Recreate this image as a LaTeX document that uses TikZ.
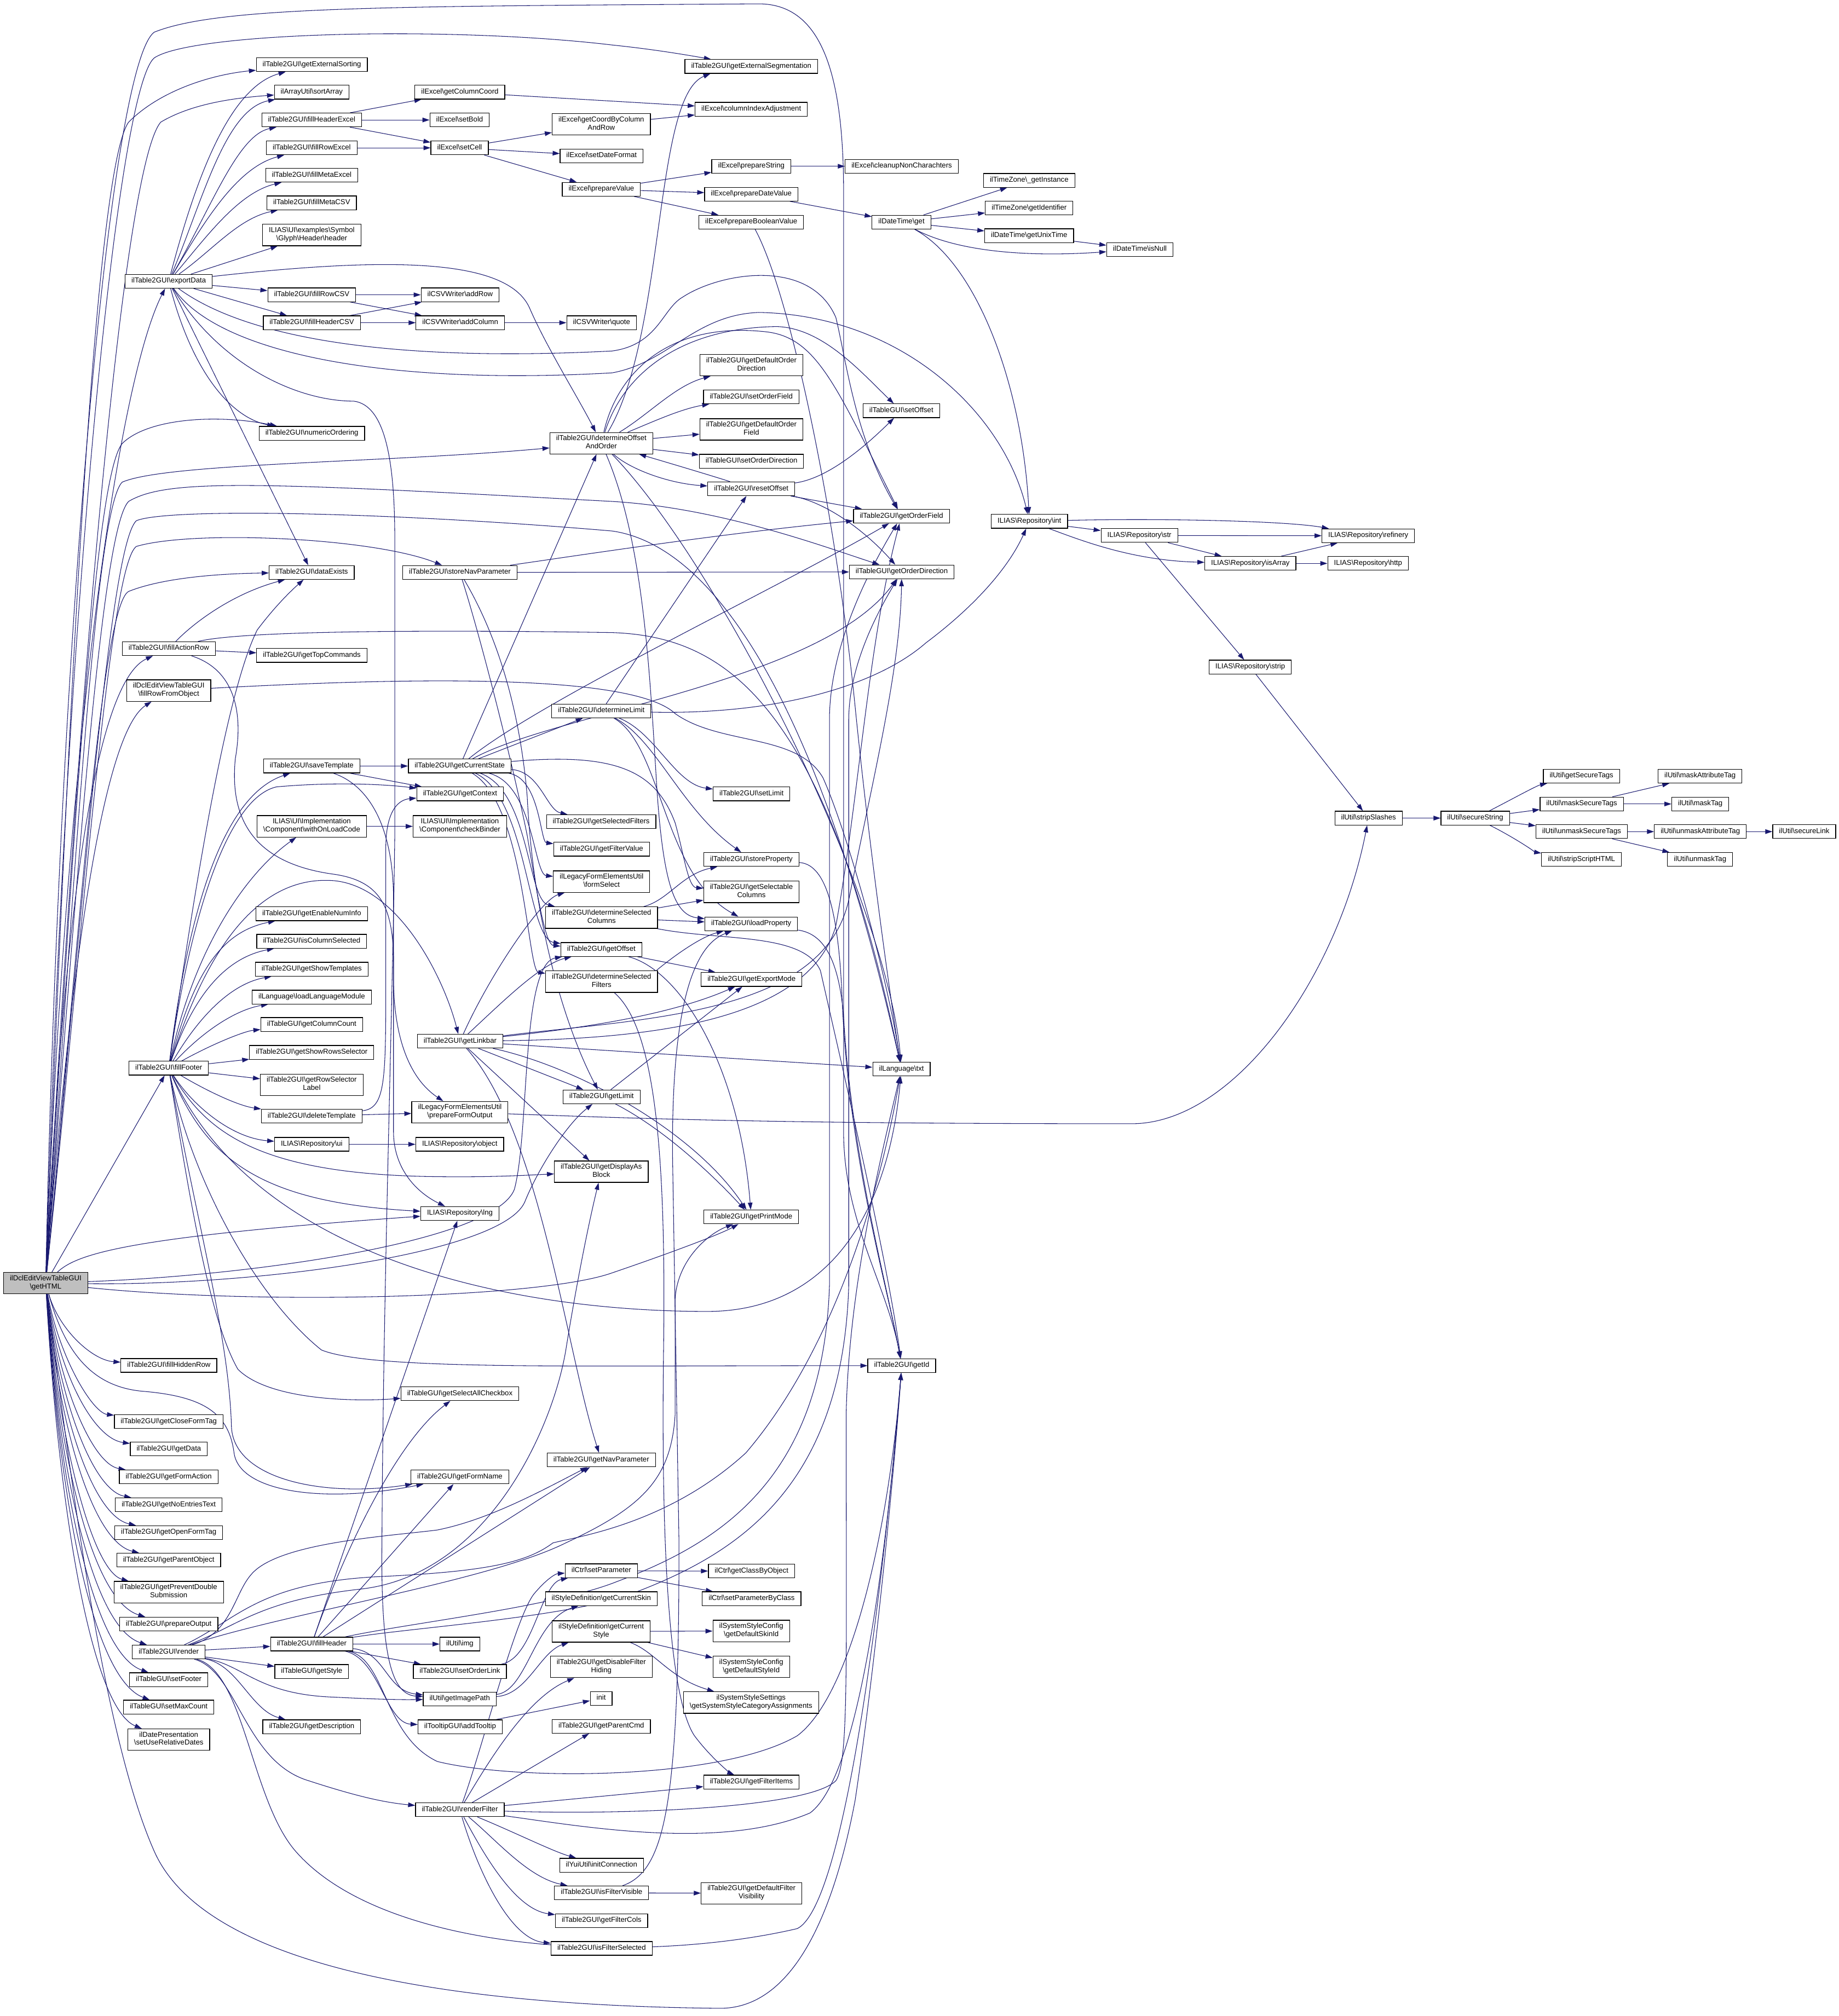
\documentclass[tikz,border=0pt]{standalone}
\usepackage{fontspec}
\setmainfont{Liberation Sans}
\usetikzlibrary{arrows.meta}
\pgfdeclarelayer{edges}
\pgfsetlayers{edges,main}
\definecolor{edgeblue}{RGB}{25,25,112}
\definecolor{rootgray}{RGB}{191,191,191}
\newcommand{\bksl}{\textbackslash}
\newcommand{\nodefnt}{\fontsize{5.6}{6.3}\selectfont}
\begin{document}
\begin{tikzpicture}[x=1pt,y=-1pt,
  nd/.style={draw=black, line width=0.5pt, fill=white, font=\nodefnt, inner xsep=4.9pt, inner ysep=2.2pt, align=center, execute at begin node=\strut, execute at end node=\strut},
  root/.style={nd, fill=rootgray},
  edg/.style={draw=edgeblue, line width=0.45pt, -{Triangle[length=5.5pt,width=3.6pt]}}]
\useasboundingbox (0,0) rectangle (1430,1568);
% ---------------- nodes ----------------
\node[root] (G) at (35.5,998) {ilDclEditViewTableGUI\\\bksl getHTML};
% column 1
\node[nd] (exp) at (131.2,218.8) {ilTable2GUI\bksl exportData};
\node[nd] (far) at (131.3,504.5) {ilTable2GUI\bksl fillActionRow};
\node[nd] (fro) at (131.2,537.1) {ilDclEditViewTableGUI\\\bksl fillRowFromObject};
\node[nd] (ffo) at (131.2,830.8) {ilTable2GUI\bksl fillFooter};
\node[nd] (fhr) at (131.3,1062) {ilTable2GUI\bksl fillHiddenRow};
\node[nd] (gcft) at (131.2,1105.7) {ilTable2GUI\bksl getCloseFormTag};
\node[nd] (gdata) at (131.3,1127) {ilTable2GUI\bksl getData};
\node[nd] (gfa) at (131.2,1148.7) {ilTable2GUI\bksl getFormAction};
\node[nd] (gnet) at (131.2,1170.4) {ilTable2GUI\bksl getNoEntriesText};
\node[nd] (goft) at (131.2,1192) {ilTable2GUI\bksl getOpenFormTag};
\node[nd] (gpo) at (131.2,1213.4) {ilTable2GUI\bksl getParentObject};
\node[nd] (gpds) at (131.2,1238.3) {ilTable2GUI\bksl getPreventDouble\\Submission};
\node[nd] (pout) at (131.2,1263.2) {ilTable2GUI\bksl prepareOutput};
\node[nd] (rend) at (131.2,1284.9) {ilTable2GUI\bksl render};
\node[nd] (sfoot) at (131.2,1306.4) {ilTableGUI\bksl setFooter};
\node[nd] (smc) at (131.2,1327.7) {ilTableGUI\bksl setMaxCount};
\node[nd] (surd) at (131.2,1353) {ilDatePresentation\\\bksl setUseRelativeDates};
% column 2
\node[nd] (ges) at (242.5,50.3) {ilTable2GUI\bksl getExternalSorting};
\node[nd] (sarr) at (242.4,71.7) {ilArrayUtil\bksl sortArray};
\node[nd] (fhe) at (242.4,93.3) {ilTable2GUI\bksl fillHeaderExcel};
\node[nd] (fre) at (242.4,115) {ilTable2GUI\bksl fillRowExcel};
\node[nd] (fme) at (242.4,136.3) {ilTable2GUI\bksl fillMetaExcel};
\node[nd] (fmc) at (242.4,157.8) {ilTable2GUI\bksl fillMetaCSV};
\node[nd] (hdr) at (242.4,182.8) {ILIAS\bksl UI\bksl examples\bksl Symbol\\\bksl Glyph\bksl Header\bksl header};
\node[nd] (frc) at (242.4,229.3) {ilTable2GUI\bksl fillRowCSV};
\node[nd] (fhc) at (242.5,251) {ilTable2GUI\bksl fillHeaderCSV};
\node[nd] (nord) at (242.5,337) {ilTable2GUI\bksl numericOrdering};
\node[nd] (dex) at (242.4,445.2) {ilTable2GUI\bksl dataExists};
\node[nd] (gtc) at (242.5,509.8) {ilTable2GUI\bksl getTopCommands};
\node[nd] (stpl) at (242.4,595.8) {ilTable2GUI\bksl saveTemplate};
\node[nd] (wolc) at (242.4,642.7) {ILIAS\bksl UI\bksl Implementation\\\bksl Component\bksl withOnLoadCode};
\node[nd] (geni) at (242.4,710.7) {ilTable2GUI\bksl getEnableNumInfo};
\node[nd] (ics) at (242.4,732.1) {ilTable2GUI\bksl isColumnSelected};
\node[nd] (gst) at (242.4,753.8) {ilTable2GUI\bksl getShowTemplates};
\node[nd] (llm) at (242.4,775.5) {ilLanguage\bksl loadLanguageModule};
\node[nd] (gcc) at (242.4,796.8) {ilTableGUI\bksl getColumnCount};
\node[nd] (gsrs) at (242.4,818.5) {ilTable2GUI\bksl getShowRowsSelector};
\node[nd] (grsl) at (242.4,843.7) {ilTable2GUI\bksl getRowSelector\\Label};
\node[nd] (dtpl) at (242.4,868.1) {ilTable2GUI\bksl deleteTemplate};
\node[nd] (rui) at (242.4,890) {ILIAS\bksl Repository\bksl ui};
\node[nd] (fhd) at (242.4,1278.7) {ilTable2GUI\bksl fillHeader};
\node[nd] (gsty) at (242.4,1300) {ilTableGUI\bksl getStyle};
\node[nd] (gdesc) at (242.4,1343) {ilTable2GUI\bksl getDescription};
% column 3
\node[nd] (gcco) at (357.6,71.7) {ilExcel\bksl getColumnCoord};
\node[nd] (sbold) at (357.4,93.3) {ilExcel\bksl setBold};
\node[nd] (scell) at (357.4,115) {ilExcel\bksl setCell};
\node[nd] (arow) at (357.8,229.3) {ilCSVWriter\bksl addRow};
\node[nd] (acol) at (357.9,251) {ilCSVWriter\bksl addColumn};
\node[nd] (snp) at (357.6,445.2) {ilTable2GUI\bksl storeNavParameter};
\node[nd] (gcs) at (357.5,595.8) {ilTable2GUI\bksl getCurrentState};
\node[nd] (gctx) at (357.8,617.5) {ilTable2GUI\bksl getContext};
\node[nd] (cbind) at (357.6,642.7) {ILIAS\bksl UI\bksl Implementation\\\bksl Component\bksl checkBinder};
\node[nd] (glb) at (357.8,809.8) {ilTable2GUI\bksl getLinkbar};
\node[nd] (pfo) at (357.6,865) {ilLegacyFormElementsUtil\\\bksl prepareFormOutput};
\node[nd] (robj) at (357.5,890) {ILIAS\bksl Repository\bksl object};
\node[nd] (rlng) at (357.6,943.8) {ILIAS\bksl Repository\bksl lng};
\node[nd] (gsac) at (357.6,1084) {ilTableGUI\bksl getSelectAllCheckbox};
\node[nd] (gfn) at (357.6,1148.7) {ilTable2GUI\bksl getFormName};
\node[nd] (img) at (357.6,1278.7) {ilUtil\bksl img};
\node[nd] (sol) at (357.6,1300) {ilTable2GUI\bksl setOrderLink};
\node[nd] (gip) at (357.5,1321.4) {ilUtil\bksl getImagePath};
\node[nd] (att) at (357.8,1343) {ilTooltipGUI\bksl addTooltip};
\node[nd] (rf) at (357.6,1407.6) {ilTable2GUI\bksl renderFilter};
% column 4
\node[nd] (gcbcr) at (467.6,96.7) {ilExcel\bksl getCoordByColumn\\AndRow};
\node[nd] (sdf) at (467.8,121.3) {ilExcel\bksl setDateFormat};
\node[nd] (pval) at (467.6,147.2) {ilExcel\bksl prepareValue};
\node[nd] (quote) at (467.8,251) {ilCSVWriter\bksl quote};
\node[nd] (dooo) at (467.6,344.7) {ilTable2GUI\bksl determineOffset\\AndOrder};
\node[nd] (dlim) at (467.6,553) {ilTable2GUI\bksl determineLimit};
\node[nd] (gsf) at (467.5,639.1) {ilTable2GUI\bksl getSelectedFilters};
\node[nd] (gfv) at (467.8,660.5) {ilTable2GUI\bksl getFilterValue};
\node[nd] (fsel) at (467.8,685.7) {ilLegacyFormElementsUtil\\\bksl formSelect};
\node[nd] (dsc) at (467.8,713.7) {ilTable2GUI\bksl determineSelected\\Columns};
\node[nd] (goff) at (467.6,738.5) {ilTable2GUI\bksl getOffset};
\node[nd] (dsf) at (467.8,763.5) {ilTable2GUI\bksl determineSelected\\Filters};
\node[nd] (glim) at (467.8,853.1) {ilTable2GUI\bksl getLimit};
\node[nd] (gdab) at (467.6,911.3) {ilTable2GUI\bksl getDisplayAs\\Block};
\node[nd] (gnp) at (467.6,1135.5) {ilTable2GUI\bksl getNavParameter};
\node[nd] (spar) at (467.6,1221.7) {ilCtrl\bksl setParameter};
\node[nd] (gcsk) at (467.6,1243.4) {ilStyleDefinition\bksl getCurrentSkin};
\node[nd] (gcst) at (467.5,1268.9) {ilStyleDefinition\bksl getCurrent\\Style};
\node[nd] (gdfh) at (467.6,1296.5) {ilTable2GUI\bksl getDisableFilter\\Hiding};
\node[nd] (init) at (467.5,1321) {init};
\node[nd] (gpc) at (467.6,1342.7) {ilTable2GUI\bksl getParentCmd};
\node[nd] (yui) at (467.8,1450.7) {ilYuiUtil\bksl initConnection};
\node[nd] (ifv) at (467.8,1472.2) {ilTable2GUI\bksl isFilterVisible};
\node[nd] (gfc) at (467.8,1493.9) {ilTable2GUI\bksl getFilterCols};
\node[nd] (ifs) at (467.8,1515.4) {ilTable2GUI\bksl isFilterSelected};
% column 5
\node[nd] (gseg) at (584.2,51.7) {ilTable2GUI\bksl getExternalSegmentation};
\node[nd] (cia) at (584.2,85) {ilExcel\bksl columnIndexAdjustment};
\node[nd] (pstr) at (584.2,129.3) {ilExcel\bksl prepareString};
\node[nd] (pdv) at (584.2,151) {ilExcel\bksl prepareDateValue};
\node[nd] (pbv) at (584.2,172.8) {ilExcel\bksl prepareBooleanValue};
\node[nd] (gdod) at (584.3,284) {ilTable2GUI\bksl getDefaultOrder\\Direction};
\node[nd] (sof) at (584.2,308.7) {ilTable2GUI\bksl setOrderField};
\node[nd] (gdof) at (584.3,334) {ilTable2GUI\bksl getDefaultOrder\\Field};
\node[nd] (sod) at (584.4,358.7) {ilTableGUI\bksl setOrderDirection};
\node[nd] (roff) at (584.2,380.2) {ilTable2GUI\bksl resetOffset};
\node[nd] (slim) at (584.4,617.5) {ilTable2GUI\bksl setLimit};
\node[nd] (sprop) at (584.3,668.5) {ilTable2GUI\bksl storeProperty};
\node[nd] (gsc) at (584.3,693.7) {ilTable2GUI\bksl getSelectable\\Columns};
\node[nd] (lprop) at (584.2,718.5) {ilTable2GUI\bksl loadProperty};
\node[nd] (gem) at (584.4,761.8) {ilTable2GUI\bksl getExportMode};
\node[nd] (gpm) at (584.2,946.5) {ilTable2GUI\bksl getPrintMode};
\node[nd] (gcbo) at (584.4,1222) {ilCtrl\bksl getClassByObject};
\node[nd] (spbc) at (584.5,1243.4) {ilCtrl\bksl setParameterByClass};
\node[nd] (gdsk) at (584.2,1268.5) {ilSystemStyleConfig\\\bksl getDefaultSkinId};
\node[nd] (gdst) at (584.2,1296.5) {ilSystemStyleConfig\\\bksl getDefaultStyleId};
\node[nd] (gssca) at (584,1324.2) {ilSystemStyleSettings\\\bksl getSystemStyleCategoryAssignments};
\node[nd] (gfi) at (584.3,1386) {ilTable2GUI\bksl getFilterItems};
\node[nd] (gdfv) at (584.4,1472.5) {ilTable2GUI\bksl getDefaultFilter\\Visibility};
% column 6
\node[nd] (cnc) at (701.2,129.3) {ilExcel\bksl cleanupNonCharachters};
\node[nd] (dtg) at (701,172.8) {ilDateTime\bksl get};
\node[nd] (soff) at (700.9,319.5) {ilTableGUI\bksl setOffset};
\node[nd] (gof) at (701,401.5) {ilTable2GUI\bksl getOrderField};
\node[nd] (god) at (701.2,444.8) {ilTableGUI\bksl getOrderDirection};
\node[nd] (txt) at (701,831.5) {ilLanguage\bksl txt};
\node[nd] (gid) at (701.2,1062.2) {ilTable2GUI\bksl getId};
% column 7+
\node[nd] (tzi) at (800.3,140.3) {ilTimeZone\bksl\_getInstance};
\node[nd] (tzid) at (800.3,161.8) {ilTimeZone\bksl getIdentifier};
\node[nd] (gut) at (800.3,183.3) {ilDateTime\bksl getUnixTime};
\node[nd] (rint) at (800.5,405.5) {ILIAS\bksl Repository\bksl int};
\node[nd] (isn) at (886.4,194) {ilDateTime\bksl isNull};
\node[nd] (rstr) at (886,416.5) {ILIAS\bksl Repository\bksl str};
\node[nd] (risa) at (972.3,438.2) {ILIAS\bksl Repository\bksl isArray};
\node[nd] (rstrip) at (972.2,518.8) {ILIAS\bksl Repository\bksl strip};
\node[nd] (rref) at (1064,416.7) {ILIAS\bksl Repository\bksl refinery};
\node[nd] (rhttp) at (1063.8,438.2) {ILIAS\bksl Repository\bksl http};
\node[nd] (ssl) at (1064.2,636.3) {ilUtil\bksl stripSlashes};
\node[nd] (sstr) at (1147.2,636.3) {ilUtil\bksl secureString};
\node[nd] (gstags) at (1229.8,603.7) {ilUtil\bksl getSecureTags};
\node[nd] (mst) at (1230,625.3) {ilUtil\bksl maskSecureTags};
\node[nd] (umst) at (1229.9,646.8) {ilUtil\bksl unmaskSecureTags};
\node[nd] (ssh) at (1229.8,668.5) {ilUtil\bksl stripScriptHTML};
\node[nd] (mat) at (1322,603.7) {ilUtil\bksl maskAttributeTag};
\node[nd] (mtag) at (1322.2,625.3) {ilUtil\bksl maskTag};
\node[nd] (umat) at (1322.2,646.8) {ilUtil\bksl unmaskAttributeTag};
\node[nd] (umtag) at (1322,668.5) {ilUtil\bksl unmaskTag};
\node[nd] (slink) at (1403,646.8) {ilUtil\bksl secureLink};
% ---------------- edges ----------------
\begin{pgfonlayer}{edges}
\fill[white] (0,0) rectangle (1430,1568);
% getHTML
\draw[edg] (G) .. controls (50,600) and (90,300) .. (exp);
\draw[edg] (G) .. controls (50,700) and (75,530) .. (far);
\draw[edg] (G) .. controls (55,750) and (80,570) .. (fro);
\draw[edg] (G) -- (ffo);
\draw[edg] (G) .. controls (46,1034.5) and (72,1058) .. (fhr);
\draw[edg] (G) .. controls (46,1056) and (72,1098.8) .. (gcft);
\draw[edg] (G) .. controls (46,1067) and (72,1118.6) .. (gdata);
\draw[edg] (G) .. controls (46,1077.9) and (72,1138.8) .. (gfa);
\draw[edg] (G) .. controls (46,1088.7) and (72,1159) .. (gnet);
\draw[edg] (G) .. controls (46,1099.5) and (72,1179) .. (goft);
\draw[edg] (G) .. controls (46,1110.2) and (72,1199) .. (gpo);
\draw[edg] (G) .. controls (46,1122.7) and (72,1222) .. (gpds);
\draw[edg] (G) .. controls (46,1135) and (72,1245) .. (pout);
\draw[edg] (G) .. controls (46,1146) and (72,1265.4) .. (rend);
\draw[edg] (G) .. controls (46,1156.7) and (72,1285.4) .. (sfoot);
\draw[edg] (G) .. controls (46,1167.4) and (72,1305.3) .. (smc);
\draw[edg] (G) .. controls (46,1180) and (72,1328.8) .. (surd);
\draw[edg] (G) .. controls (55,500) and (75,130) .. (100,95) .. controls (125,70) and (165,58) .. (ges);
\draw[edg] (G) .. controls (60,550) and (95,130) .. (125,95) .. controls (150,80) and (185,76) .. (sarr);
\draw[edg] (G) .. controls (50,500) and (90,70) .. (120,45) .. controls (150,25) and (350,20) .. (476,35) .. controls (505,38) and (530,42) .. (gseg);
\draw[edg] (G) .. controls (46,500) and (85,50) .. (120,25) .. controls (170,5) and (300,5) .. (590,3) .. controls (640,3) and (656,60) .. (656,150) -- (656,880) .. controls (656,950) and (690,1000) .. (gid);
\draw[edg] (G) .. controls (60,600) and (75,370) .. (95,345) .. controls (115,325) and (170,322) .. (nord);
\draw[edg] (G) .. controls (60,650) and (75,395) .. (95,375) .. controls (130,360) and (300,360) .. (dooo);
\draw[edg] (G) .. controls (62,650) and (80,410) .. (100,390) .. controls (130,372) and (200,375) .. (476,390) .. controls (560,395) and (640,425) .. (god);
\draw[edg] (G) .. controls (65,700) and (85,425) .. (106,405) .. controls (130,395) and (300,398) .. (476,413) .. controls (560,425) and (640,560) .. (txt);
\draw[edg] (G) .. controls (65,720) and (85,440) .. (106,425) .. controls (150,412) and (290,418) .. (snp);
\draw[edg] (G) .. controls (60,750) and (78,472) .. (100,460) .. controls (130,448) and (180,446) .. (dex);
\draw[edg] (G) .. controls (60,975) and (100,962) .. (rlng);
\draw[edg] (G) .. controls (200,992) and (385,965) .. (400,925) .. controls (412,880) and (405,750) .. (goff);
\draw[edg] (G) .. controls (200,1000) and (390,975) .. (408,935) .. controls (418,910) and (440,875) .. (glim);
\draw[edg] (G) .. controls (200,1015) and (420,1010) .. (476,990) .. controls (520,975) and (560,960) .. (gpm);
\draw[edg] (G) .. controls (50,1050) and (70,1078) .. (110,1082) .. controls (160,1086) and (178,1100) .. (182,1130) .. controls (186,1160) and (250,1170) .. (gfn);
\draw[edg] (G) .. controls (55,1150) and (80,1350) .. (120,1440) .. controls (160,1530) and (350,1560) .. (560,1562) .. controls (620,1562) and (650,1480) .. (665,1400) .. controls (680,1300) and (695,1150) .. (gid);
% exportData
\draw[edg] (exp) .. controls (152,140) and (178,68) .. (ges);
\draw[edg] (exp) .. controls (158,155) and (175,85) .. (sarr);
\draw[edg] (exp) .. controls (165,160) and (185,105) .. (fhe);
\draw[edg] (exp) .. controls (160,170) and (185,130) .. (fre);
\draw[edg] (exp) .. controls (160,185) and (185,150) .. (fme);
\draw[edg] (exp) .. controls (165,195) and (185,170) .. (fmc);
\draw[edg] (exp) -- (hdr);
\draw[edg] (exp) -- (frc);
\draw[edg] (exp) -- (fhc);
\draw[edg] (exp) .. controls (150,290) and (180,325) .. (nord);
\draw[edg] (exp) -- (dex);
\draw[edg] (exp) .. controls (300,200) and (395,200) .. (412,240) .. controls (425,270) and (450,310) .. (dooo);
\draw[edg] (exp) .. controls (190,262) and (300,282) .. (476,273) .. controls (512,268) and (515,240) .. (531,231) .. controls (560,212) and (630,200) .. (650,247) .. controls (658,280) and (665,340) .. (gof);
\draw[edg] (exp) .. controls (170,275) and (300,300) .. (476,290) .. controls (520,282) and (540,245) .. (590,243) .. controls (700,245) and (780,320) .. (rint);
\draw[edg] (exp) .. controls (170,283) and (230,312) .. (275,312) .. controls (300,315) and (307,360) .. (307,420) -- (307,650) .. controls (305,800) and (298,1000) .. (297,1200) .. controls (296,1290) and (305,1318) .. (gip);
% excel / csv chain
\draw[edg] (fhe) -- (gcco);
\draw[edg] (fhe) -- (sbold);
\draw[edg] (fhe) -- (scell);
\draw[edg] (fre) -- (scell);
\draw[edg] (scell) -- (gcbcr);
\draw[edg] (scell) -- (sdf);
\draw[edg] (scell) -- (pval);
\draw[edg] (gcco) -- (cia);
\draw[edg] (gcbcr) -- (cia);
\draw[edg] (pval) -- (pstr);
\draw[edg] (pval) -- (pdv);
\draw[edg] (pval) -- (pbv);
\draw[edg] (pstr) -- (cnc);
\draw[edg] (pdv) -- (dtg);
\draw[edg] (pbv) .. controls (615,230) and (650,400) .. (665,550) .. controls (675,650) and (690,760) .. (txt);
\draw[edg] (dtg) -- (tzi);
\draw[edg] (dtg) -- (tzid);
\draw[edg] (dtg) -- (gut);
\draw[edg] (gut) -- (isn);
\draw[edg] (dtg) .. controls (745,196) and (800,200) .. (isn);
\draw[edg] (dtg) .. controls (760,205) and (795,300) .. (rint);
\draw[edg] (frc) -- (arow);
\draw[edg] (frc) -- (acol);
\draw[edg] (fhc) -- (arow);
\draw[edg] (fhc) -- (acol);
\draw[edg] (acol) -- (quote);
% determineOffsetAndOrder
\draw[edg] (dooo) .. controls (518,260) and (508,75) .. (gseg.190);
\draw[edg] (dooo) .. controls (505,322) and (525,300) .. (gdod);
\draw[edg] (dooo) .. controls (510,327) and (530,318) .. (sof);
\draw[edg] (dooo) -- (gdof);
\draw[edg] (dooo) -- (sod);
\draw[edg] (dooo) .. controls (490,365) and (520,376) .. (roff);
\draw[edg] (dooo) .. controls (485,290) and (530,255) .. (604,254) .. controls (640,255) and (670,290) .. (soff);
\draw[edg] (dooo) .. controls (480,290) and (520,250) .. (595,258) .. controls (635,262) and (650,300) .. (gof);
\draw[edg] (dooo) .. controls (560,440) and (690,700) .. (txt);
\draw[edg] (dooo) .. controls (500,420) and (505,520) .. (510,600) .. controls (515,690) and (525,712) .. (lprop);
\draw[edg] (roff) .. controls (560,372) and (520,360) .. (dooo);
\draw[edg] (roff) .. controls (645,372) and (675,345) .. (soff);
\draw[edg] (roff) -- (gof);
\draw[edg] (roff) .. controls (640,390) and (670,410) .. (god);
% storeNavParameter
\draw[edg] (snp) .. controls (450,432) and (560,415) .. (gof);
\draw[edg] (snp) -- (god);
\draw[edg] (snp) .. controls (375,500) and (400,600) .. (410,650) .. controls (420,710) and (425,735) .. (goff);
\draw[edg] (snp) .. controls (390,500) and (405,560) .. (410,620) .. controls (415,720) and (440,800) .. (glim);
% getCurrentState
\draw[edg] (gcs) -- (dooo);
\draw[edg] (gcs) -- (dlim);
\draw[edg] (gcs) .. controls (420,545) and (600,460) .. (gof);
\draw[edg] (gcs) .. controls (430,555) and (640,530) .. (god);
\draw[edg] (gcs) .. controls (420,600) and (425,630) .. (gsf);
\draw[edg] (gcs) .. controls (420,605) and (420,655) .. (gfv);
\draw[edg] (gcs) .. controls (415,610) and (415,680) .. (fsel);
\draw[edg] (gcs) .. controls (412,615) and (410,700) .. (dsc);
\draw[edg] (gcs) .. controls (410,620) and (410,730) .. (goff);
\draw[edg] (gcs) .. controls (408,625) and (410,755) .. (dsf);
\draw[edg] (gcs) .. controls (480,585) and (510,600) .. (525,640) .. controls (532,665) and (535,690) .. (gsc);
% determineLimit
\draw[edg] (dlim) .. controls (510,570) and (525,610) .. (slim);
\draw[edg] (dlim) .. controls (510,575) and (530,630) .. (sprop);
\draw[edg] (dlim) .. controls (515,580) and (515,680) .. (lprop);
\draw[edg] (dlim) .. controls (600,556) and (680,535) .. (720,500) .. controls (760,470) and (785,440) .. (rint);
\draw[edg] (dlim) -- (roff);
% selected columns / filters, offset, limit
\draw[edg] (dsc) -- (gsc);
\draw[edg] (dsc) -- (lprop);
\draw[edg] (dsc) .. controls (520,700) and (530,680) .. (sprop);
\draw[edg] (dsc) .. controls (560,732) and (625,725) .. (638,755) .. controls (655,830) and (690,980) .. (gid);
\draw[edg] (dsf) .. controls (510,755) and (540,730) .. (lprop);
\draw[edg] (dsf) .. controls (510,800) and (518,900) .. (516,1050) .. controls (514,1200) and (520,1320) .. (540,1350) .. controls (555,1370) and (570,1380) .. (gfi);
\draw[edg] (goff) -- (gem);
\draw[edg] (goff) .. controls (530,755) and (575,830) .. (gpm);
\draw[edg] (glim) -- (gem);
\draw[edg] (glim) .. controls (520,880) and (560,920) .. (gpm);
\draw[edg] (sprop) .. controls (640,672) and (652,700) .. (655,780) .. controls (660,900) and (690,1000) .. (gid);
\draw[edg] (lprop) .. controls (640,726) and (652,745) .. (656,790) .. controls (662,900) and (690,1000) .. (gid);
% getLinkbar
\draw[edg] (glb) .. controls (380,760) and (420,700) .. (fsel);
\draw[edg] (glb) .. controls (390,780) and (420,750) .. (goff);
\draw[edg] (glb) -- (glim);
\draw[edg] (glb) -- (gdab);
\draw[edg] (glb) .. controls (420,880) and (440,1050) .. (gnp);
\draw[edg] (glb) -- (txt);
\draw[edg] (glb) .. controls (450,800) and (520,790) .. (gem);
\draw[edg] (glb) .. controls (450,830) and (540,880) .. (gpm);
\draw[edg] (glb) .. controls (500,792) and (640,790) .. (660,700) .. controls (680,600) and (700,520) .. (god);
\draw[edg] (glb) .. controls (520,808) and (630,790) .. (650,720) .. controls (668,620) and (675,500) .. (gof);
% templates / footer helpers
\draw[edg] (stpl) -- (gcs);
\draw[edg] (stpl) -- (gctx);
\draw[edg] (stpl) .. controls (285,610) and (306,640) .. (306,700) -- (306,880) .. controls (306,910) and (325,928) .. (rlng);
\draw[edg] (wolc) -- (cbind);
\draw[edg] (dtpl) .. controls (300,862) and (300,840) .. (300,760) -- (300,660) .. controls (300,630) and (310,622) .. (gctx);
\draw[edg] (dtpl) -- (pfo);
\draw[edg] (rui) -- (robj);
\draw[edg] (pfo) .. controls (500,870) and (600,874) .. (880,874) .. controls (960,874) and (1040,760) .. (ssl);
% fillActionRow / fillRowFromObject
\draw[edg] (far) -- (gtc);
\draw[edg] (far) .. controls (150,485) and (180,462) .. (dex);
\draw[edg] (far) .. controls (190,490) and (350,490) .. (476,492) .. controls (560,495) and (640,540) .. (txt);
\draw[edg] (far) .. controls (180,520) and (190,550) .. (183,590) .. controls (178,640) and (200,672) .. (260,680) .. controls (300,686) and (307,710) .. (306,760) .. controls (306,810) and (320,840) .. (pfo);
\draw[edg] (fro) .. controls (300,528) and (490,522) .. (525,555) .. controls (560,580) and (620,570) .. (640,605) .. controls (660,650) and (690,760) .. (txt);
% fillFooter
\draw[edg] (ffo) .. controls (150,760) and (170,725) .. (geni);
\draw[edg] (ffo) .. controls (150,775) and (175,745) .. (ics);
\draw[edg] (ffo) .. controls (155,790) and (180,765) .. (gst);
\draw[edg] (ffo) .. controls (160,800) and (185,785) .. (llm);
\draw[edg] (ffo) .. controls (165,812) and (190,802) .. (gcc);
\draw[edg] (ffo) -- (gsrs);
\draw[edg] (ffo) -- (grsl);
\draw[edg] (ffo) .. controls (160,848) and (185,860) .. (dtpl);
\draw[edg] (ffo) .. controls (150,860) and (180,885) .. (rui);
\draw[edg] (ffo) .. controls (145,720) and (170,620) .. (stpl);
\draw[edg] (ffo) .. controls (150,740) and (190,680) .. (wolc);
\draw[edg] (ffo) .. controls (150,700) and (180,620) .. (215,612) .. controls (260,608) and (300,610) .. (gctx);
\draw[edg] (ffo) .. controls (160,740) and (200,680) .. (260,685) .. controls (310,690) and (345,760) .. (glb);
\draw[edg] (ffo) .. controls (150,700) and (175,540) .. (200,490) .. controls (215,470) and (228,458) .. (dex);
\draw[edg] (ffo) .. controls (160,880) and (200,912) .. (330,915) .. controls (380,916) and (410,914) .. (gdab);
\draw[edg] (ffo) .. controls (160,900) and (200,935) .. (rlng);
\draw[edg] (ffo) .. controls (150,950) and (165,1030) .. (185,1065) .. controls (210,1090) and (280,1090) .. (gsac);
\draw[edg] (ffo) .. controls (155,960) and (178,1040) .. (180,1110) .. controls (182,1150) and (250,1165) .. (gfn);
\draw[edg] (ffo) .. controls (150,920) and (200,1010) .. (250,1050) .. controls (290,1066) and (450,1062) .. (gid);
\draw[edg] (ffo) .. controls (200,980) and (400,1020) .. (550,1020) .. controls (640,1020) and (690,950) .. (txt);
% render
\draw[edg] (rend) -- (fhd);
\draw[edg] (rend) -- (gsty);
\draw[edg] (rend) .. controls (185,1295) and (195,1330) .. (gdesc);
\draw[edg] (rend) .. controls (185,1300) and (190,1370) .. (240,1385) .. controls (280,1398) and (300,1402) .. (rf);
\draw[edg] (rend) .. controls (190,1295) and (200,1318) .. (260,1320) .. controls (300,1322) and (315,1322) .. (gip);
\draw[edg] (rend) .. controls (180,1270) and (182,1240) .. (195,1225) .. controls (215,1200) and (300,1195) .. (340,1190) .. controls (380,1182) and (420,1160) .. (gnp);
\draw[edg] (rend) .. controls (190,1300) and (195,1400) .. (230,1440) .. controls (300,1520) and (500,1528) .. (620,1500) .. controls (660,1480) and (690,1200) .. (gid);
\draw[edg] (rend) .. controls (185,1260) and (200,1230) .. (300,1226) .. controls (380,1222) and (410,1215) .. (430,1200) .. controls (450,1195) and (520,1185) .. (580,1130) .. controls (640,1060) and (680,950) .. (txt);
\draw[edg] (rend) .. controls (220,1255) and (380,1230) .. (440,1200) .. controls (500,1172) and (522,1150) .. (525,1100) -- (525,1010) .. controls (527,980) and (550,960) .. (gpm);
\draw[edg] (rend) .. controls (185,1265) and (200,1245) .. (280,1236) .. controls (380,1225) and (430,1110) .. (440,1050) .. controls (448,1000) and (458,950) .. (gdab);
% fillHeader
\draw[edg] (fhd) -- (img);
\draw[edg] (fhd) -- (sol);
\draw[edg] (fhd) .. controls (300,1285) and (300,1315) .. (gip);
\draw[edg] (fhd) .. controls (295,1290) and (300,1340) .. (att);
\draw[edg] (fhd) .. controls (270,1200) and (310,1120) .. (gsac);
\draw[edg] (fhd) -- (gfn);
\draw[edg] (fhd) -- (rlng);
\draw[edg] (fhd) -- (gnp);
\draw[edg] (fhd) .. controls (300,1290) and (298,1350) .. (340,1370) .. controls (400,1385) and (560,1385) .. (620,1350) .. controls (660,1320) and (690,1200) .. (gid);
\draw[edg] (fhd) .. controls (320,1262) and (430,1250) .. (480,1230) .. controls (560,1200) and (640,1150) .. (645,1000) -- (645,560) .. controls (645,520) and (660,470) .. (gof);
\draw[edg] (fhd) .. controls (320,1266) and (440,1258) .. (490,1240) .. controls (570,1210) and (655,1160) .. (660,1000) -- (660,560) .. controls (660,520) and (680,480) .. (god);
% renderFilter
\draw[edg] (rf) -- (gfi);
\draw[edg] (rf) .. controls (400,1425) and (430,1440) .. (yui);
\draw[edg] (rf) .. controls (385,1430) and (410,1460) .. (ifv);
\draw[edg] (rf) .. controls (375,1440) and (400,1485) .. (gfc);
\draw[edg] (rf) .. controls (370,1450) and (395,1508) .. (ifs);
\draw[edg] (rf) -- (gpc);
\draw[edg] (rf) .. controls (380,1370) and (410,1320) .. (gdfh);
\draw[edg] (rf) .. controls (375,1360) and (400,1260) .. (415,1240) .. controls (425,1228) and (432,1224) .. (spar);
\draw[edg] (rf) .. controls (500,1412) and (630,1405) .. (650,1385) .. controls (660,1370) and (658,1300) .. (658,1100) .. controls (660,1000) and (685,900) .. (txt);
\draw[edg] (rf) .. controls (450,1420) and (560,1440) .. (630,1410) .. controls (670,1380) and (690,1200) .. (gid);
% style / ctrl helpers
\draw[edg] (sol) .. controls (415,1290) and (420,1232) .. (spar);
\draw[edg] (gip) .. controls (410,1315) and (415,1260) .. (gcsk);
\draw[edg] (gip) .. controls (410,1318) and (420,1285) .. (gcst);
\draw[edg] (att) -- (init);
\draw[edg] (spar) -- (gcbo);
\draw[edg] (spar) -- (spbc);
\draw[edg] (gcst) -- (gdsk);
\draw[edg] (gcst) -- (gdst);
\draw[edg] (gcst) .. controls (510,1285) and (520,1305) .. (gssca);
\draw[edg] (ifv) -- (gdfv);
\draw[edg] (ifv) .. controls (518,1455) and (528,1400) .. (528,1200) -- (523,900) .. controls (522,780) and (540,735) .. (lprop);
% repository / util chain
\draw[edg] (rint) .. controls (900,403) and (1000,405) .. (rref);
\draw[edg] (rint) -- (rstr);
\draw[edg] (rint) .. controls (840,420) and (880,436) .. (risa);
\draw[edg] (rstr) -- (rref);
\draw[edg] (rstr) -- (risa);
\draw[edg] (rstr) -- (rstrip);
\draw[edg] (risa) -- (rref);
\draw[edg] (risa) -- (rhttp);
\draw[edg] (rstrip) -- (ssl);
\draw[edg] (ssl) -- (sstr);
\draw[edg] (sstr) .. controls (1175,622) and (1195,611) .. (gstags);
\draw[edg] (sstr) -- (mst);
\draw[edg] (sstr) -- (umst);
\draw[edg] (sstr) .. controls (1175,650) and (1195,663) .. (ssh);
\draw[edg] (mst) -- (mat);
\draw[edg] (mst) -- (mtag);
\draw[edg] (umst) -- (umat);
\draw[edg] (umst) -- (umtag);
\draw[edg] (umat) -- (slink);
\end{pgfonlayer}
\end{tikzpicture}
\end{document}
